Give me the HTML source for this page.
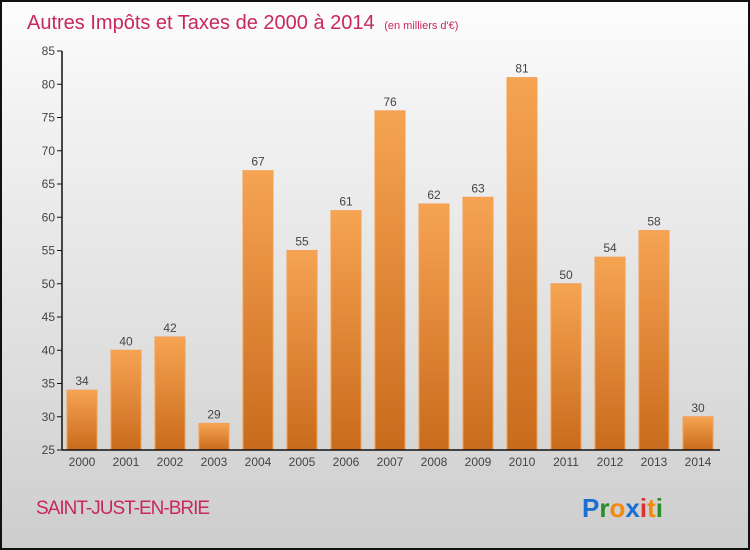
<!DOCTYPE html>
<html><head><meta charset="utf-8"><style>
html,body{margin:0;padding:0}
body{width:750px;height:550px;overflow:hidden;font-family:"Liberation Sans",sans-serif}
#wrap{position:absolute;left:0;top:0;width:746px;height:546px;border:2px solid #111;background:linear-gradient(#fdfdfd,#f2f2f2 20%,#dcdcdc 70%,#cdcdcd)}
</style></head><body>
<div id="wrap">
<svg id="chart" width="746" height="546" style="position:absolute;left:-2px;top:-2px;overflow:visible">
<defs><linearGradient id="bg" x1="0" y1="0" x2="0" y2="1"><stop offset="0" stop-color="#f6a452"/><stop offset="1" stop-color="#c96b1c"/></linearGradient></defs>
<text x="27" y="29" font-size="20" fill="#c8285a">Autres Impôts et Taxes de 2000 à 2014 <tspan font-size="11" dx="4">(en milliers d'€)</tspan></text>
<g id="g"></g>
<text x="36" y="514" font-size="19" fill="#c8285a" letter-spacing="-1">SAINT-JUST-EN-BRIE</text>
<text x="582" y="517" font-size="26" font-weight="bold"><tspan fill="#1a6fd0">P</tspan><tspan fill="#2a8c2a">r</tspan><tspan fill="#f08a10">o</tspan><tspan fill="#1a6fd0">x</tspan><tspan fill="#e03030">i</tspan><tspan fill="#f08a10">t</tspan><tspan fill="#2a8c2a">i</tspan></text>
</svg>
</div>
<script>
const years=["2000","2001","2002","2003","2004","2005","2006","2007","2008","2009","2010","2011","2012","2013","2014"];
const values=[34,40,42,29,67,55,61,76,62,63,81,50,54,58,30];
const ticks=[25,30,35,40,45,50,55,60,65,70,75,80,85];
const NS="http://www.w3.org/2000/svg";
const g=document.getElementById('g');
const y=v=>450-(v-25)*399/60;
const x=i=>82+i*44;
function mk(t,a){const e=document.createElementNS(NS,t);for(const k in a)e.setAttribute(k,a[k]);g.appendChild(e);return e;}
ticks.forEach(t=>{
 const l=mk('line',{x1:57,x2:62,y1:y(t),y2:y(t),stroke:'#111'});
 
 
 const tx=mk('text',{x:55,y:y(t)+4,'font-size':12,'text-anchor':'end',fill:'#444'});tx.textContent=t;
 
 
});
values.forEach((v,i)=>{
 const r=mk('rect',{x:x(i)-15,y:y(v),width:30,height:y(25)-y(v),fill:'url(#bg)',stroke:'#f3a055','stroke-width':1});
 
 
 const lb=mk('text',{x:x(i),y:y(v)-5,'font-size':12,'text-anchor':'middle',fill:'#444'});lb.textContent=v;
 
 
 const yl=mk('text',{x:x(i),y:y(25)+16,'font-size':12,'text-anchor':'middle',fill:'#444'});yl.textContent=years[i];
 
 
});
const ya=mk('line',{x1:62,x2:62,y1:y(85),y2:y(25),stroke:'#111','stroke-width':1.5});


const xa=mk('line',{x1:62,x2:720,y1:y(25),y2:y(25),stroke:'#111','stroke-width':1.5});


</script>
</body></html>
